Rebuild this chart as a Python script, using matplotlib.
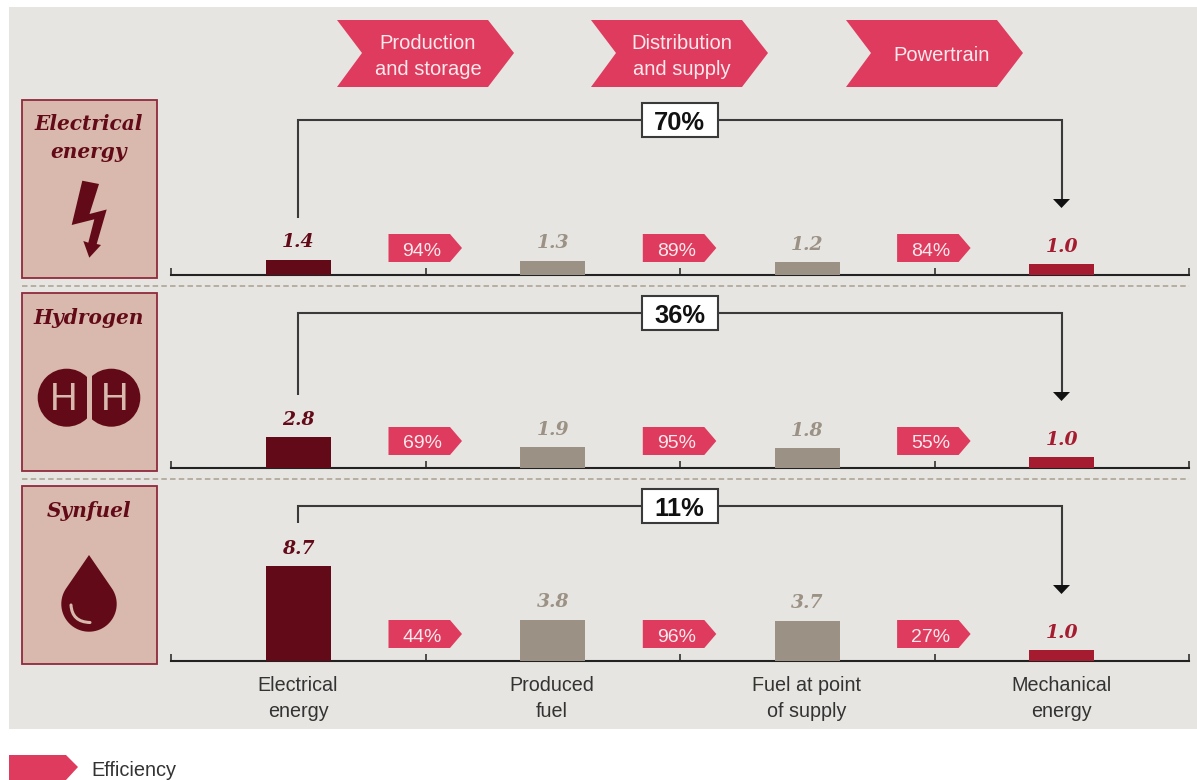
import matplotlib
matplotlib.use("Agg")
import matplotlib.pyplot as plt
import numpy as np
from matplotlib.patches import Polygon, Rectangle, Circle, PathPatch
from matplotlib.path import Path

W, H = 1197, 780
SANS = "Liberation Sans"
SERIF = "DejaVu Serif"

# ---- data ----
stages = [["Electrical", "energy"], ["Produced", "fuel"], ["Fuel at point", "of supply"], ["Mechanical", "energy"]]
carriers = [["Electrical", "energy"], ["Hydrogen"], ["Synfuel"]]
electrical_values = [1.4, 1.3, 1.2, 1.0]
hydrogen_values = [2.8, 1.9, 1.8, 1.0]
synfuel_values = [8.7, 3.8, 3.7, 1.0]
electrical_eff = ["94%", "89%", "84%"]
hydrogen_eff = ["69%", "95%", "55%"]
synfuel_eff = ["44%", "96%", "27%"]
overall_eff = ["70%", "36%", "11%"]
steps = [["Production", "and storage"], ["Distribution", "and supply"], ["Powertrain"]]
legend_label = "Efficiency"

BG = "#e6e5e1"
PINK = "#df3b5e"
DARK = "#630a18"
GREY = "#9b9184"
RED = "#a51c30"
PANEL = "#d9b9ad"
PANEL_EDGE = "#8e2a3c"
LINE = "#3a3a3a"
TEXT = "#333333"
TAGTEXT = "#fbe9ec"

fig = plt.figure(figsize=(W / 100, H / 100), dpi=100, facecolor="white")

# pixel overlay
ov = fig.add_axes([0, 0, 1, 1], zorder=3)
ov.set_xlim(0, W)
ov.set_ylim(H, 0)
ov.axis("off")
ov.patch.set_alpha(0)

bgax = fig.add_axes([0, 0, 1, 1], zorder=0)
bgax.set_xlim(0, W)
bgax.set_ylim(H, 0)
bgax.axis("off")
bgax.add_patch(Rectangle((9, 7), 1188, 722, fc=BG, ec="none"))


def lines(x, ys, rows, **kw):
    for y, row in zip(ys, rows):
        ov.text(x, y, row, ha="center", va="center_baseline", **kw)


# chevron headers
for x0, tx, label in zip([337, 591, 846], [428, 682, 942], steps):
    ov.add_patch(Polygon([(x0, 20), (x0 + 151, 20), (x0 + 177, 53), (x0 + 151, 87), (x0, 87), (x0 + 25, 53)],
                         closed=True, fc=PINK, ec="none"))
    ys = [41.5, 67.5] if len(label) == 2 else [53.5]
    lines(tx, ys, label, color=TAGTEXT, family=SANS, fontsize=14.5)

baselines = [275, 468, 661]
tops = [100, 293, 486]
series = [electrical_values, hydrogen_values, synfuel_values]
effs = [electrical_eff, hydrogen_eff, synfuel_eff]
PX_PER_UNIT = 10.9
X0, X1 = 171, 1189
colors = [DARK, GREY, GREY, RED]
label_colors = [DARK, GREY, GREY, RED]

for i in range(3):
    base, top = baselines[i], tops[i]
    ax = fig.add_axes([X0 / W, 1 - base / H, (X1 - X0) / W, (base - top) / H], zorder=2)
    ax.patch.set_alpha(0)
    ax.set_xlim(-0.5, 3.5)
    ax.set_ylim(0, (base - top) / PX_PER_UNIT)
    xs = list(range(4))
    ax.bar(xs, series[i], width=0.256, color=colors, zorder=3, linewidth=0)
    for x, v, c in zip(xs, series[i], label_colors):
        ax.annotate(f"{v:.1f}", (x, v), xytext=(0, 6), textcoords="offset points", ha="center", va="bottom",
                    color=c, family=SERIF, style="italic", weight="bold", fontsize=13.5)
    for s in ["top", "left", "right"]:
        ax.spines[s].set_visible(False)
    ax.spines["bottom"].set_linewidth(1.5)
    ax.spines["bottom"].set_color("#222222")
    ax.set_yticks([])
    ax.set_xticks([-0.5, 0.5, 1.5, 2.5, 3.5])
    ax.tick_params(axis="x", direction="in", length=5, width=1.1, color="#222222", labelbottom=False)

    # carrier panel
    ov.add_patch(Rectangle((22, top), 134.7, 177.5, fc=PANEL, ec=PANEL_EDGE, lw=1.3))
    ys = [top + 22.5, top + 50.5] if i == 0 else [top + 23]
    lines(89, ys, carriers[i], color=DARK, family=SERIF, style="italic", weight="bold", fontsize=14.5)

    # efficiency tags
    for j, e in enumerate(effs[i]):
        x = 388.5 + j * 254.3
        yc = base - 27
        ov.add_patch(Polygon([(x, yc - 14), (x + 61.5, yc - 14), (x + 73.5, yc), (x + 61.5, yc + 14), (x, yc + 14)],
                             closed=True, fc=PINK, ec="none"))
        ov.text(x + 33.5, yc + 1, e, color=TAGTEXT, ha="center", va="center_baseline", family=SANS, fontsize=14)

    # overall bracket
    yb = top + 20
    ytop_end = {0: 218, 1: 395, 2: 523}[i]
    ov.plot([298, 298, 1061.5, 1061.5], [ytop_end, yb, yb, base - 76], color=LINE, lw=1.5, solid_joinstyle="miter",
            solid_capstyle="butt")
    ov.add_patch(Polygon([(1053, base - 76), (1070, base - 76), (1061.5, base - 67)], closed=True, fc="#111111", ec="none"))
    ov.add_patch(Rectangle((642, yb - 17), 75.5, 34, fc="white", ec=LINE, lw=1.5, zorder=4))
    ov.text(679.5, yb + 0.5, overall_eff[i], color="#111111", ha="center", va="center_baseline", family=SANS,
            weight="bold", fontsize=18.4, zorder=5)

# separators
for y in [285.5, 478.5]:
    ov.plot([22, 1189], [y, y], color="#a89f90", lw=1.1, dashes=(3.6, 2.1))

# stage labels
for x, s in zip([298, 552, 807, 1061.5], stages):
    lines(x, [683.5, 709.5], s, color=TEXT, family=SANS, fontsize=14.2)

# lightning icon
ov.add_patch(Polygon([(82.3, 180.7), (99, 184), (89.5, 214), (106.7, 209.5), (96.7, 244), (101, 245), (89.3, 257.7),
                      (83.3, 241), (88.3, 242.7), (94.3, 219.3), (71.7, 225)], closed=True, fc=DARK, ec="none"))

# hydrogen icon
clip_spec = [((66.7, 397.7), (30, 360, 57.3, 80)), ((111.3, 397.7), (91.7, 360, 60, 80))]
for c, (cx0, cy0, cw, ch) in clip_spec:
    circ = Circle(c, 29, fc=DARK, ec="none")
    ov.add_patch(circ)
    circ.set_clip_path(Rectangle((cx0, cy0), cw, ch, transform=ov.transData))
for cx_h in [63.7, 114.4]:
    ov.text(cx_h, 400, "H", color=PANEL, ha="center", va="center", family=SANS, fontsize=27.5)

# drop icon
cx, cy, r, tip = 89, 604, 27.7, 555
a = np.arccos(r / (cy - tip))
outline = [(cx, tip)] + [(cx + r * np.sin(t), cy - r * np.cos(t)) for t in np.linspace(a, 2 * np.pi - a, 80)]
ov.add_patch(Polygon(outline, closed=True, fc=DARK, ec="none"))
hl = Path([(71, 605), (72, 622), (90, 622.5)], [Path.MOVETO, Path.CURVE3, Path.CURVE3])
ov.add_patch(PathPatch(hl, fc="none", ec=PANEL, lw=2.2, capstyle="round"))

# legend
ov.add_patch(Polygon([(9, 755), (66, 755), (78, 767), (66, 780), (9, 780)], closed=True, fc=PINK, ec="none"))
ov.text(91.5, 768.5, legend_label, color=TEXT, ha="left", va="center_baseline", family=SANS, fontsize=14.4)

fig.savefig("out.png", dpi=100, facecolor="white")
